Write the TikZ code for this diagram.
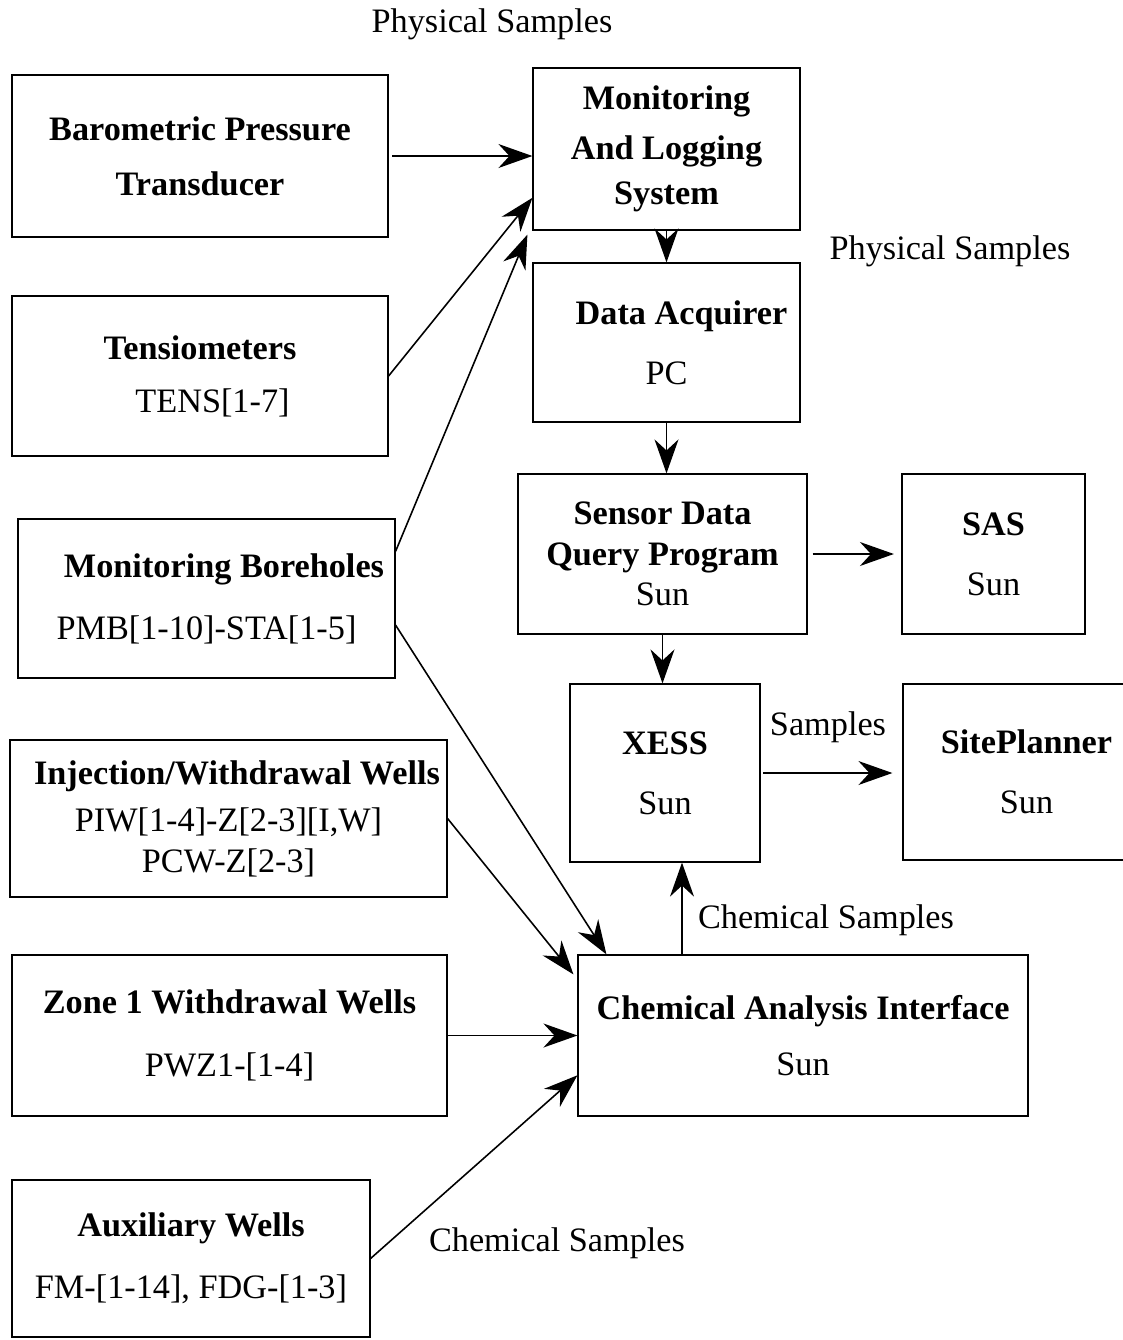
\documentclass[tikz,border=0pt]{standalone}
\usepackage{fontspec}
\setmainfont{Liberation Serif}
\usetikzlibrary{arrows.meta,calc}

\begin{document}
\begin{tikzpicture}[
  x=0.02cm,y=-0.02cm,
  font=\fontsize{19.5}{23}\selectfont,
  box/.style={draw,line width=0.7pt,align=center,inner sep=0pt},
  lbl/.style={inner sep=0pt},
  arr/.style={-{Stealth[length=6.8mm,width=4.8mm]},line width=0.9pt}
]
\useasboundingbox (0,0) rectangle (1123,1340);
\node[box,minimum width=7.52cm,minimum height=3.24cm] (baro) at (200,156) {\textbf{Barometric Pressure}\\[8.3pt]\textbf{Transducer}};
\node[box,minimum width=7.52cm,minimum height=3.2cm] (tens) at (200,376) {\textbf{Tensiometers}\\[7.2pt]\hspace*{0.5cm}TENS[1-7]};
\node[box,minimum width=7.54cm,minimum height=3.18cm] (bore) at (206.5,598.5) {\hspace*{0.7cm}\textbf{Monitoring Boreholes}\\[12.3pt]PMB[1-10]-STA[1-5]};
\node[box,minimum width=8.74cm,minimum height=3.14cm] (inj) at (228.5,818.5) {\hspace*{0.34cm}\textbf{Injection/Withdrawal Wells}\\[3.8pt]PIW[1-4]-Z[2-3][I,W]\\[0.3pt]PCW-Z[2-3]};
\node[box,minimum width=8.7cm,minimum height=3.22cm] (zone) at (229.5,1035.5) {\textbf{Zone 1 Withdrawal Wells}\\[12.9pt]PWZ1-[1-4]};
\node[box,minimum width=7.16cm,minimum height=3.14cm] (aux) at (191,1258.5) {\textbf{Auxiliary Wells}\\[12.3pt]FM-[1-14], FDG-[1-3]};
\node[box,minimum width=5.34cm,minimum height=3.24cm] (mls) at (666.5,149) {\textbf{Monitoring}\\[5.5pt]\textbf{And Logging}\\[2.6pt]\textbf{System}};
\node[box,minimum width=5.34cm,minimum height=3.18cm] (daq) at (666.5,342.5) {\hspace*{0.6cm}\textbf{Data Acquirer}\\[11.2pt]PC};
\node[box,minimum width=5.78cm,minimum height=3.2cm] (sdqp) at (662.5,554) {\textbf{Sensor Data}\\\textbf{Query Program}\\Sun};
\node[box,minimum width=3.66cm,minimum height=3.2cm] (sas) at (993.5,554) {\textbf{SAS}\\[11.2pt]Sun};
\node[box,minimum width=3.8cm,minimum height=3.56cm] (xess) at (665,773) {\textbf{XESS}\\[11.2pt]Sun};
\node[box,minimum width=4.94cm,minimum height=3.52cm] (site) at (1026.5,772) {\textbf{SitePlanner}\\[11.2pt]Sun};
\node[box,minimum width=9cm,minimum height=3.22cm] (cai) at (803,1035.5) {\textbf{Chemical Analysis Interface}\\[8.9pt]Sun};
\node[lbl] (physa) at (492,24) {Physical Samples};
\node[lbl] (physb) at (950,251) {Physical Samples};
\node[lbl] (samp) at (828,727) {Samples};
\node[lbl] (chema) at (826,920) {Chemical Samples};
\node[lbl] (chemb) at (557,1243) {Chemical Samples};
\coordinate (chemx) at (682,0);
\draw[arr,shorten <=2pt] (baro.east) -- (baro.east -| mls.west);
\draw[arr] (tens.east) -- (mls.200);
\draw[arr] (bore.14) -- ($(mls.south west)+(-5,4)$);
\draw[arr] (bore.-8) -- ($(cai.north west)+(29,0)$);
\draw[arr] (inj.east) -- ($(cai.north west)+(-4,20)$);
\draw[arr] (zone.east) -- (cai.west);
\draw[arr] (aux.east) -- (cai.190);
\draw[arr] (mls.south) -- (daq.north);
\draw[arr] (daq.south) -- (daq.south |- sdqp.north);
\draw[arr] (sdqp.south) -- (sdqp.south |- xess.north);
\draw[arr,shorten <=0.1cm,shorten >=0.15cm] (sdqp.east) -- (sas.west);
\draw[arr,shorten <=0.05cm,shorten >=0.2cm] (xess.east) -- (xess.east -| site.west);
\draw[arr] (cai.north -| chemx) -- (xess.south -| chemx);
\end{tikzpicture}
\end{document}
